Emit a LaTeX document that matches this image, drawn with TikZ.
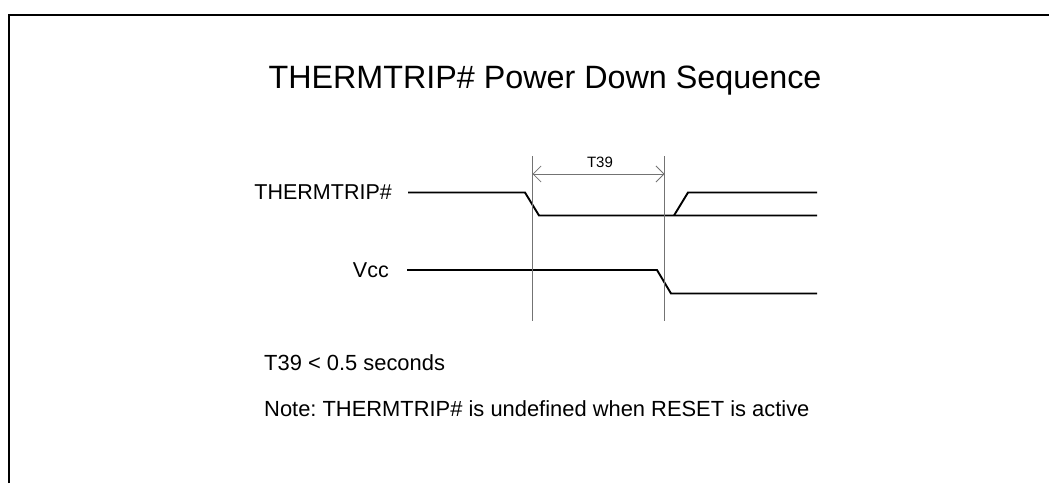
\documentclass[tikz,border=0pt]{standalone}
\usepackage{fontspec}
\setmainfont{Liberation Sans}
\usetikzlibrary{arrows.meta}
\frenchspacing
\begin{document}
\begin{tikzpicture}[x=1pt,y=-1pt,
  frame/.style={line width=2.5pt,black},
  signal/.style={line width=1.9pt,black,line join=miter},
  guide/.style={line width=1.1pt,black!55},
  dimline/.style={line width=0.8pt,black!55,{Straight Barb[length=8pt,width=16pt,line width=0.8pt]}-{Straight Barb[length=8pt,width=16pt,line width=0.8pt]}},
  title/.style={font=\fontsize{32.3}{32.3}\selectfont,inner sep=0pt},
  siglabel/.style={font=\fontsize{21.5}{21.5}\selectfont,inner sep=0pt},
  small/.style={font=\fontsize{15}{15}\selectfont,inner sep=0pt},
  note/.style={font=\fontsize{21.9}{21.9}\selectfont,inner sep=0pt}]
\useasboundingbox (0,0) rectangle (1049,483);
% frame (top and left edges visible)
\coordinate (fTL) at (9,15);
\coordinate (fTR) at (1049,15);
\coordinate (fBL) at (9,483);
\draw[frame] (fBL) -- (fTL) -- (fTR);
% title
\node[title,anchor=base] (ttl) at (545,88) {THERMTRIP\# Power Down Sequence};
% labels
\node[siglabel,anchor=base east] (lthm) at (392,199) {THERMTRIP\#};
\node[siglabel,anchor=base east] (lvcc) at (389,277) {Vcc};
% THERMTRIP# waveform
\coordinate (t0) at (408,192.5);
\coordinate (t1) at (525,192.5);
\coordinate (t2) at (539,215.5);
\coordinate (t3) at (817,215.5);
\coordinate (r0) at (674,215.5);
\coordinate (r1) at (688,192.5);
\coordinate (r2) at (817,192.5);
\draw[signal] (t0) -- (t1) -- (t2) -- (t3);
\draw[signal] (r0) -- (r1) -- (r2);
% Vcc waveform
\coordinate (v0) at (407,270);
\coordinate (v1) at (657,270);
\coordinate (v2) at (671,293.5);
\coordinate (v3) at (817,293.5);
\draw[signal] (v0) -- (v1) -- (v2) -- (v3);
% guides
\coordinate (g1t) at (532.5,156);
\coordinate (g1b) at (532.5,321);
\coordinate (g2t) at (664.5,156);
\coordinate (g2b) at (664.5,321);
\draw[guide] (g1t) -- (g1b);
\draw[guide] (g2t) -- (g2b);
\coordinate (d1) at (532.5,174);
\coordinate (d2) at (664.5,174);
\draw[dimline] (d1) -- (d2);
\node[small,anchor=base] (lt39) at (600,167) {T39};
% notes
\node[note,anchor=base west] (n1) at (264,370) {T39 < 0.5 seconds};
\node[note,anchor=base west] (n2) at (264,416) {Note: THERMTRIP\# is undefined when RESET is active};
\end{tikzpicture}
\end{document}
